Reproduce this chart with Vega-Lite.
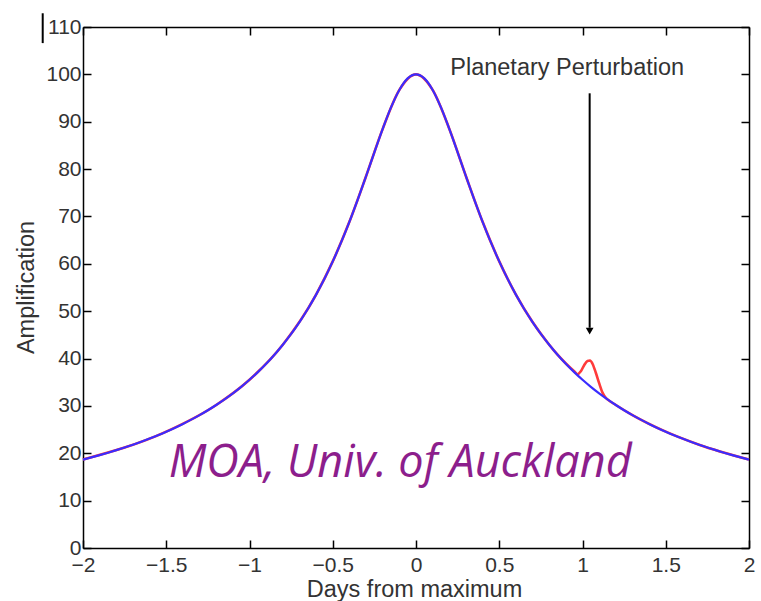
{
  "$schema": "https://vega.github.io/schema/vega-lite/v6.json",
  "autosize": "none",
  "width": 666,
  "height": 521,
  "padding": {"left": 83, "top": 27, "right": 12, "bottom": 53},
  "background": "white",
  "config": {
    "view": {"stroke": null},
    "font": "Liberation Sans",
    "axis": {
      "domainColor": "black", "domainWidth": 1.5, "tickColor": "black", "tickWidth": 1.5,
      "tickSize": -8, "grid": false, "labelFont": "Liberation Sans", "labelFontSize": 21,
      "labelColor": "#333", "titleFont": "Liberation Sans", "titleFontSize": 23.5,
      "titleFontWeight": "normal", "titleColor": "#333", "format": "~r"
    }
  },
  "datasets": {
    "unperturbed": [
      {"t": -2, "A": 18.67}, {"t": -1.95, "A": 19.13}, {"t": -1.9, "A": 19.61}, {"t": -1.85, "A": 20.12},
      {"t": -1.8, "A": 20.66}, {"t": -1.75, "A": 21.22}, {"t": -1.7, "A": 21.81}, {"t": -1.65, "A": 22.44},
      {"t": -1.6, "A": 23.11}, {"t": -1.55, "A": 23.81}, {"t": -1.5, "A": 24.56}, {"t": -1.45, "A": 25.35},
      {"t": -1.4, "A": 26.2}, {"t": -1.35, "A": 27.1}, {"t": -1.3, "A": 28.06}, {"t": -1.25, "A": 29.09},
      {"t": -1.2, "A": 30.19}, {"t": -1.15, "A": 31.38}, {"t": -1.1, "A": 32.65}, {"t": -1.05, "A": 34.03},
      {"t": -1, "A": 35.52}, {"t": -0.95, "A": 37.14}, {"t": -0.9, "A": 38.9}, {"t": -0.85, "A": 40.81},
      {"t": -0.8, "A": 42.91}, {"t": -0.75, "A": 45.2}, {"t": -0.7, "A": 47.71}, {"t": -0.65, "A": 50.47},
      {"t": -0.6, "A": 53.5}, {"t": -0.55, "A": 56.84}, {"t": -0.5, "A": 60.51}, {"t": -0.45, "A": 64.52},
      {"t": -0.4, "A": 68.87}, {"t": -0.35, "A": 73.55}, {"t": -0.3, "A": 78.49}, {"t": -0.25, "A": 83.54},
      {"t": -0.2, "A": 88.49}, {"t": -0.15, "A": 93.02}, {"t": -0.1, "A": 96.71}, {"t": -0.05, "A": 99.15},
      {"t": 0, "A": 100},
      {"t": 0.05, "A": 99.15}, {"t": 0.1, "A": 96.71}, {"t": 0.15, "A": 93.02}, {"t": 0.2, "A": 88.49},
      {"t": 0.25, "A": 83.54}, {"t": 0.3, "A": 78.49}, {"t": 0.35, "A": 73.55}, {"t": 0.4, "A": 68.87},
      {"t": 0.45, "A": 64.52}, {"t": 0.5, "A": 60.51}, {"t": 0.55, "A": 56.84}, {"t": 0.6, "A": 53.5},
      {"t": 0.65, "A": 50.47}, {"t": 0.7, "A": 47.71}, {"t": 0.75, "A": 45.2}, {"t": 0.8, "A": 42.91},
      {"t": 0.85, "A": 40.81}, {"t": 0.9, "A": 38.9}, {"t": 0.95, "A": 37.14}, {"t": 1, "A": 35.52},
      {"t": 1.05, "A": 34.03}, {"t": 1.1, "A": 32.65}, {"t": 1.15, "A": 31.38}, {"t": 1.2, "A": 30.19},
      {"t": 1.25, "A": 29.09}, {"t": 1.3, "A": 28.06}, {"t": 1.35, "A": 27.1}, {"t": 1.4, "A": 26.2},
      {"t": 1.45, "A": 25.35}, {"t": 1.5, "A": 24.56}, {"t": 1.55, "A": 23.81}, {"t": 1.6, "A": 23.11},
      {"t": 1.65, "A": 22.44}, {"t": 1.7, "A": 21.81}, {"t": 1.75, "A": 21.22}, {"t": 1.8, "A": 20.66},
      {"t": 1.85, "A": 20.12}, {"t": 1.9, "A": 19.61}, {"t": 1.95, "A": 19.13}, {"t": 2, "A": 18.67}
    ],
    "perturbed": [
      {"t": -2, "A": 18.67}, {"t": -1.5, "A": 24.56}, {"t": -1.2, "A": 30.19}, {"t": -1, "A": 35.52},
      {"t": -0.8, "A": 42.91}, {"t": -0.6, "A": 53.5}, {"t": -0.5, "A": 60.51}, {"t": -0.4, "A": 68.87},
      {"t": -0.3, "A": 78.49}, {"t": -0.2, "A": 88.49}, {"t": -0.1, "A": 96.71}, {"t": 0, "A": 100},
      {"t": 0.1, "A": 96.71}, {"t": 0.2, "A": 88.49}, {"t": 0.3, "A": 78.49}, {"t": 0.4, "A": 68.87},
      {"t": 0.5, "A": 60.51}, {"t": 0.6, "A": 53.5}, {"t": 0.7, "A": 47.71}, {"t": 0.8, "A": 42.91},
      {"t": 0.85, "A": 40.81}, {"t": 0.9, "A": 38.95}, {"t": 0.95, "A": 37.3}, {"t": 0.97, "A": 36.7},
      {"t": 0.99, "A": 37.3}, {"t": 1.01, "A": 38.6}, {"t": 1.03, "A": 39.5}, {"t": 1.045, "A": 39.6},
      {"t": 1.06, "A": 38.9}, {"t": 1.08, "A": 37.0}, {"t": 1.1, "A": 34.8}, {"t": 1.12, "A": 32.8},
      {"t": 1.14, "A": 31.7}, {"t": 1.15, "A": 31.38}, {"t": 1.2, "A": 30.19}, {"t": 1.3, "A": 28.06},
      {"t": 1.5, "A": 24.56}, {"t": 1.7, "A": 21.81}, {"t": 2, "A": 18.67}
    ],
    "arrow": [{"t": 1.043, "top": 96, "tip": 46.5, "head": 45.8}],
    "labels": [
      {"t": 0.908, "A": 99.8, "label": "Planetary Perturbation"},
      {"t": -0.095, "A": 15.0, "label": "MOA, Univ. of Auckland"}
    ],
    "stray": [{"t": -2.242, "y1": 112.9, "y2": 106.6}]
  },
  "resolve": {"axis": {"x": "independent", "y": "independent"}},
  "layer": [
    {
      "data": {"name": "perturbed"},
      "mark": {"type": "line", "color": "#ff3b3b", "strokeWidth": 2.6, "interpolate": "monotone"},
      "encoding": {
        "x": {"field": "t", "type": "quantitative", "scale": {"domain": [-2, 2], "nice": false, "zero": false},
              "axis": {"orient": "top", "labels": false, "title": null, "values": [-2, -1.5, -1, -0.5, 0, 0.5, 1, 1.5, 2]}},
        "y": {"field": "A", "type": "quantitative", "scale": {"domain": [0, 110], "nice": false},
              "axis": {"orient": "right", "labels": false, "title": null, "values": [0, 10, 20, 30, 40, 50, 60, 70, 80, 90, 100, 110]}}
      }
    },
    {
      "data": {"name": "unperturbed"},
      "mark": {"type": "line", "color": "#3a2cff", "strokeWidth": 2.2, "interpolate": "monotone"},
      "encoding": {
        "x": {"field": "t", "type": "quantitative",
              "axis": {"orient": "bottom", "title": "Days from maximum", "values": [-2, -1.5, -1, -0.5, 0, 0.5, 1, 1.5, 2],
                       "labelPadding": 14, "labelFlush": false, "titleX": 331, "titleY": 48, "titleBaseline": "alphabetic", "titleAnchor": null}},
        "y": {"field": "A", "type": "quantitative",
              "axis": {"orient": "left", "title": "Amplification", "values": [0, 10, 20, 30, 40, 50, 60, 70, 80, 90, 100, 110],
                       "labelPadding": 10, "titleX": -50, "titleY": 260, "titleAngle": -90, "titleAlign": "center", "titleBaseline": "alphabetic"}}
      }
    },
    {
      "data": {"name": "arrow"},
      "mark": {"type": "rule", "color": "black", "strokeWidth": 2},
      "encoding": {
        "x": {"field": "t", "type": "quantitative", "axis": null},
        "y": {"field": "top", "type": "quantitative", "axis": null},
        "y2": {"field": "tip"}
      }
    },
    {
      "data": {"name": "arrow"},
      "mark": {"type": "point", "shape": "triangle-down", "filled": true, "color": "black", "size": 60, "opacity": 1},
      "encoding": {
        "x": {"field": "t", "type": "quantitative", "axis": null},
        "y": {"field": "head", "type": "quantitative", "axis": null}
      }
    },
    {
      "data": {"name": "labels"},
      "transform": [{"filter": "datum.label == 'Planetary Perturbation'"}],
      "mark": {"type": "text", "font": "Liberation Sans", "fontSize": 23.5, "color": "#333", "align": "center", "baseline": "alphabetic"},
      "encoding": {
        "x": {"field": "t", "type": "quantitative", "axis": null},
        "y": {"field": "A", "type": "quantitative", "axis": null},
        "text": {"field": "label"}
      }
    },
    {
      "data": {"name": "labels"},
      "transform": [{"filter": "datum.label == 'MOA, Univ. of Auckland'"}],
      "mark": {"type": "text", "font": "Open Sans", "fontStyle": "italic", "fontSize": 45, "color": "#8c1e8c", "align": "center", "baseline": "alphabetic"},
      "encoding": {
        "x": {"field": "t", "type": "quantitative", "axis": null},
        "y": {"field": "A", "type": "quantitative", "axis": null},
        "text": {"field": "label"}
      }
    },
    {
      "data": {"name": "stray"},
      "mark": {"type": "rule", "color": "black", "strokeWidth": 2},
      "encoding": {
        "x": {"field": "t", "type": "quantitative", "axis": null},
        "y": {"field": "y1", "type": "quantitative", "axis": null},
        "y2": {"field": "y2"}
      }
    }
  ]
}
